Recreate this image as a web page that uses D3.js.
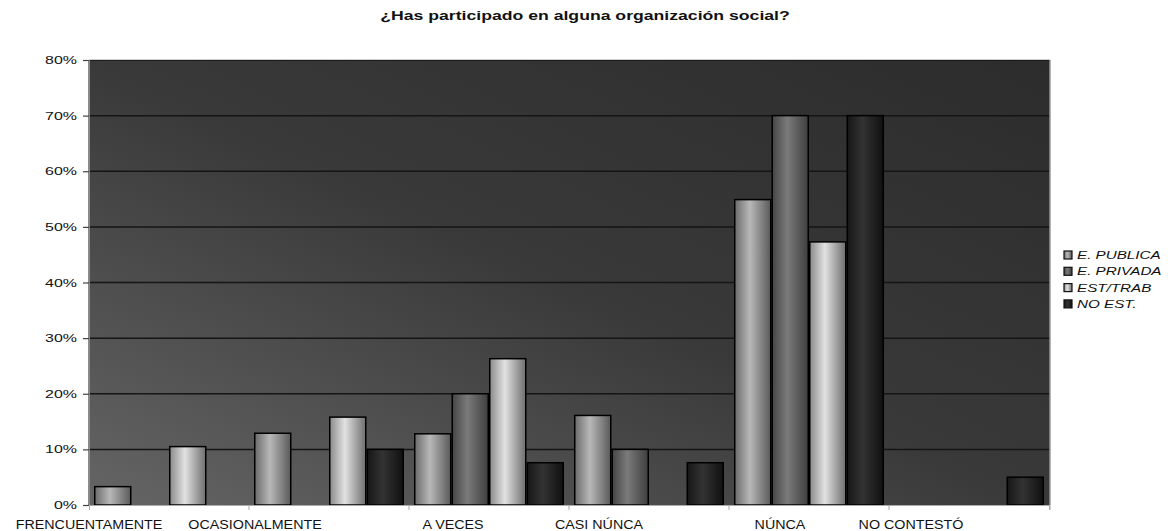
<!DOCTYPE html>
<html>
<head>
<meta charset="utf-8">
<script src="https://cdn.jsdelivr.net/npm/d3@7"></script>
<style>
  html, body { margin: 0; padding: 0; background: #fff; }
  svg { display: block; font-family: "Liberation Sans", Arial, sans-serif; }
</style>
</head>
<body>
<svg id="chart" width="1168" height="531"></svg>
<script>
// Survey answers, percentage of each group
const categories = ["FRENCUENTAMENTE", "OCASIONALMENTE", "A VECES", "CASI NÚNCA", "NÚNCA", "NO CONTESTÓ"];
const seriesNames = ["E. PUBLICA", "E. PRIVADA", "EST/TRAB", "NO EST."];
const ePublica = [3.3, 12.9, 12.8, 16.1, 54.9, 0];
const ePrivada = [0, 0, 20.0, 10.0, 70.0, 0];
const estTrab  = [10.5, 15.8, 26.3, 0, 47.3, 0];
const noEst    = [0, 10.0, 7.6, 7.6, 70.0, 5.0];
const yTicks   = [0, 10, 20, 30, 40, 50, 60, 70, 80];
const titleText = "¿Has participado en alguna organización social?";

const seriesValues = [ePublica, ePrivada, estTrab, noEst];

const svg = d3.select("#chart");
const plot = { left: 89, right: 1050, top: 60, bottom: 505 };
const textStretch = 1.45;

// Bar shading: cylinder-like horizontal gradients
const shades = [
  ["#6a6a6a", "#b8b8b8", "#5a5a5a"],
  ["#454545", "#7a7a7a", "#3e3e3e"],
  ["#8a8a8a", "#e2e2e2", "#6e6e6e"],
  ["#161616", "#333333", "#101010"]
];
const defs = svg.append("defs");
shades.forEach((s, i) => {
  const g = defs.append("linearGradient").attr("id", "bar" + i)
    .attr("x1", 0).attr("y1", 0).attr("x2", 1).attr("y2", 0);
  g.append("stop").attr("offset", 0).attr("stop-color", s[0]);
  g.append("stop").attr("offset", 0.42).attr("stop-color", s[1]);
  g.append("stop").attr("offset", 1).attr("stop-color", s[2]);
});
const bg = defs.append("linearGradient").attr("id", "plotBg")
  .attr("x1", 0).attr("y1", 1).attr("x2", 1).attr("y2", 0);
bg.append("stop").attr("offset", 0).attr("stop-color", "#656565");
bg.append("stop").attr("offset", 0.5).attr("stop-color", "#393939");
bg.append("stop").attr("offset", 1).attr("stop-color", "#2c2c2c");

// Scales
const x0 = d3.scaleBand().domain(categories).range([plot.left, plot.right - 1]).paddingInner(0).paddingOuter(0);
const x1 = d3.scaleBand().domain(seriesNames).range([0, x0.bandwidth()]).paddingInner(0).paddingOuter(0.133);
const y = d3.scaleLinear().domain([0, 80]).range([plot.bottom, plot.top]);

// Plot area
svg.append("rect")
  .attr("x", plot.left).attr("y", plot.top)
  .attr("width", plot.right - plot.left).attr("height", plot.bottom - plot.top)
  .attr("fill", "url(#plotBg)");

// Gridlines
svg.append("g").selectAll("line")
  .data(yTicks.filter(t => t > 0))
  .join("line")
  .attr("x1", plot.left).attr("x2", plot.right)
  .attr("y1", d => y(d)).attr("y2", d => y(d))
  .attr("stroke", "#151515").attr("stroke-width", 1.5);

// Plot frame edges
svg.append("line").attr("x1", plot.left).attr("x2", plot.left)
  .attr("y1", plot.top).attr("y2", plot.bottom).attr("stroke", "#8a8a8a").attr("stroke-width", 2);
svg.append("line").attr("x1", plot.right).attr("x2", plot.right)
  .attr("y1", plot.top).attr("y2", plot.bottom).attr("stroke", "#9a9a9a").attr("stroke-width", 1.5);
svg.append("line").attr("x1", plot.left).attr("x2", plot.right)
  .attr("y1", plot.top - 0.5).attr("y2", plot.top - 0.5).attr("stroke", "#cfcfcf").attr("stroke-width", 1);

// Bars
const groups = svg.append("g").selectAll("g")
  .data(categories)
  .join("g")
  .attr("transform", d => `translate(${x0(d)},0)`);
groups.selectAll("rect")
  .data((c, ci) => seriesNames.map((s, si) => ({ s, si, v: seriesValues[si][ci] })).filter(d => d.v > 0))
  .join("rect")
  .attr("x", d => x1(d.s) + 0.75)
  .attr("width", x1.bandwidth() - 1.5)
  .attr("y", d => y(d.v))
  .attr("height", d => y(0) - y(d.v))
  .attr("fill", d => `url(#bar${d.si})`)
  .attr("stroke", "#000").attr("stroke-width", 1.5);

// Y axis
const yAxis = svg.append("g").attr("transform", `translate(${plot.left},0)`)
  .call(d3.axisLeft(y).tickValues(yTicks).tickSize(6).tickFormat(""));
yAxis.select(".domain").remove();
yAxis.selectAll(".tick line").attr("stroke", "#444").attr("stroke-width", 1.2);
svg.append("g").selectAll("text")
  .data(yTicks)
  .join("text")
  .attr("transform", d => `translate(${plot.left - 12},${y(d) + 4}) scale(${textStretch},1)`)
  .attr("text-anchor", "end")
  .attr("font-size", 11)
  .attr("fill", "#111")
  .text(d => d + "%");

// X axis
const xAxis = svg.append("g").attr("transform", `translate(0,${plot.bottom})`)
  .call(d3.axisBottom(x0).tickSize(5).tickFormat(""));
xAxis.select(".domain").attr("stroke", "#aaa");
xAxis.selectAll(".tick").remove();
xAxis.selectAll(".bound")
  .data(categories.slice(1).concat([null]))
  .join("line")
  .attr("x1", d => d ? x0(d) : plot.right).attr("x2", d => d ? x0(d) : plot.right)
  .attr("y1", 0).attr("y2", 5)
  .attr("stroke", "#aaa");

// Category labels sit left of their group centres
const labelShift = [-80, -74, -36, -50, -29, -58];
svg.append("g").selectAll("text")
  .data(categories)
  .join("text")
  .attr("transform", (d, i) => `translate(${x0(d) + x0.bandwidth() / 2 + labelShift[i]},529) scale(1.1,1)`)
  .attr("text-anchor", "middle")
  .attr("font-size", 13)
  .attr("fill", "#111")
  .text(d => d);

// Title
svg.append("text")
  .attr("transform", `translate(585,20) scale(1.47,1)`)
  .attr("text-anchor", "middle")
  .attr("font-size", 12)
  .attr("font-weight", "bold")
  .attr("fill", "#111")
  .text(titleText);

// Legend
const legend = svg.append("g").selectAll("g")
  .data(seriesNames)
  .join("g")
  .attr("transform", (d, i) => `translate(1064,${255 + i * 16.3})`);
legend.append("rect")
  .attr("x", 0).attr("y", -4).attr("width", 8).attr("height", 8)
  .attr("fill", (d, i) => `url(#bar${i})`)
  .attr("stroke", "#111").attr("stroke-width", 1.2);
legend.append("text")
  .attr("transform", `translate(13,4) scale(${textStretch},1)`)
  .attr("font-size", 10.5)
  .attr("font-style", "italic")
  .attr("fill", "#111")
  .text(d => d);
</script>
</body>
</html>
